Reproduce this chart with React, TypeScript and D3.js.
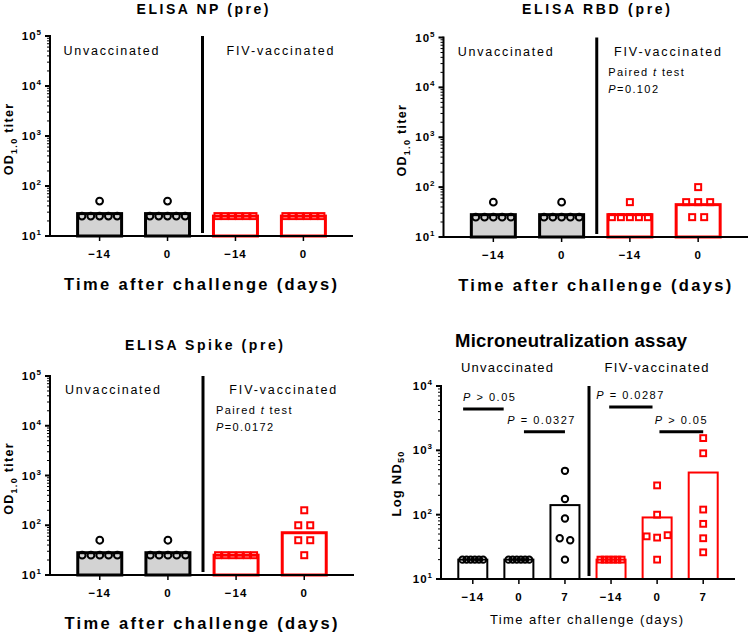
import React from 'react';
import * as d3 from 'd3';

// ---------------- data ----------------
const elisaDays = ['−14', '0', '−14', '0'];
const mnDays = ['−14', '0', '7', '−14', '0', '7'];
const groupNames = ['Unvaccinated', 'FIV-vaccinated'];
const elisaGroupOf = [0, 0, 1, 1];
const mnGroupOf = [0, 0, 0, 1, 1, 1];

const npUnvacDm14 = [25, 25, 25, 25, 25, 50];
const npUnvacD0 = [25, 25, 25, 25, 25, 50];
const npFivDm14 = [25, 25, 25, 25, 25, 25];
const npFivD0 = [25, 25, 25, 25, 25, 25];

const rbdUnvacDm14 = [25, 25, 25, 25, 25, 50];
const rbdUnvacD0 = [25, 25, 25, 25, 25, 50];
const rbdFivDm14 = [25, 25, 25, 25, 25, 50];
const rbdFivD0 = [25, 25, 50, 50, 50, 100];

const spikeUnvacDm14 = [25, 25, 25, 25, 25, 50];
const spikeUnvacD0 = [25, 25, 25, 25, 25, 50];
const spikeFivDm14 = [25, 25, 25, 25, 25, 25];
const spikeFivD0 = [25, 50, 50, 100, 100, 200];

const mnUnvacDm14 = [20, 20, 20, 20, 20, 20];
const mnUnvacD0 = [20, 20, 20, 20, 20, 20];
const mnUnvacD7 = [480, 175, 87, 43, 40, 20];
const mnFivDm14 = [20, 20, 20, 20, 20, 20];
const mnFivD0 = [285, 100, 46, 44, 48, 20];
const mnFivD7 = [1550, 900, 120, 72, 43, 26];

const rbdPValue = '0.102';
const spikePValue = '0.0172';

const mnCompFrom = [0, 1, 3, 4];
const mnCompTo = [1, 2, 4, 5];
const mnCompLabel = [' > 0.05', ' = 0.0327', ' = 0.0287', ' > 0.05'];
const mnCompLevel = [4400, 1950, 4700, 1950];

// ---------------- helpers ----------------
const FONT = '"Liberation Sans", Arial, Helvetica, sans-serif';
const BLACK = '#000000';
const RED = '#ff0000';

const geoMean = (v: number[]) => Math.pow(10, d3.mean(v.map((d) => Math.log10(d))) as number);
const ariMean = (v: number[]) => d3.mean(v) as number;

function spread(values: number[], y: (v: number) => number, cx: number, maxS: number, avail: number) {
  const pts = values.map((v, i) => ({ v, i, py: y(v) }));
  const sorted = [...pts].sort((a, b) => a.py - b.py);
  const clusters: { v: number; i: number; py: number }[][] = [];
  for (const p of sorted) {
    const last = clusters[clusters.length - 1];
    if (last && Math.abs(p.py - last[0].py) < 8) last.push(p);
    else clusters.push([p]);
  }
  const out: { x: number; y: number }[] = [];
  for (const c0 of clusters) {
    const c = [...c0].sort((a, b) => a.i - b.i);
    const n = c.length;
    const s = n > 1 ? Math.min(maxS, avail / (n - 1)) : 0;
    c.forEach((p, j) => out.push({ x: cx + (j - (n - 1) / 2) * s, y: p.py }));
  }
  return out;
}

type PanelProps = {
  left: number;
  right: number;
  yTop: number;
  yBot: number;
  maxExp: number;
  pad: number;
  days: string[];
  groupOf: number[];
  series: number[][];
  mean: (v: number[]) => number;
  barW: number;
  barStroke: number;
  fillUnvac: string;
  markerR: number;
  sq: number;
  maxSpread: number;
  axisW: number;
  dividerW: number;
};

function LogPanel(p: PanelProps) {
  const y = d3.scaleLog().domain([10, Math.pow(10, p.maxExp)]).range([p.yBot, p.yTop]);
  const idx = p.days.map((_, i) => i);
  const x = d3.scalePoint<number>().domain(idx).range([p.left, p.right]).padding(p.pad);
  const majors = d3.range(1, p.maxExp + 1);
  const minors: number[] = [];
  for (let k = 1; k < p.maxExp; k++) for (let m = 2; m <= 9; m++) minors.push(m * Math.pow(10, k));
  const half = p.groupOf.indexOf(1);
  const divX = ((x(half - 1) as number) + (x(half) as number)) / 2 + 1;

  return (
    <g>
      {p.series.map((vals, i) => {
        const col = p.groupOf[i] === 0 ? BLACK : RED;
        const cx = x(i) as number;
        const top = y(p.mean(vals));
        return (
          <rect
            key={'b' + i}
            x={cx - p.barW / 2}
            y={top}
            width={p.barW}
            height={p.yBot - top}
            fill={p.groupOf[i] === 0 ? p.fillUnvac : '#ffffff'}
            stroke={col}
            strokeWidth={p.barStroke}
          />
        );
      })}
      {p.series.map((vals, i) => {
        const cx = x(i) as number;
        const isRed = p.groupOf[i] === 1;
        const msize = isRed ? p.sq + 2 : p.markerR * 2 + 2;
        const pts = spread(vals, (v) => y(v), cx, p.maxSpread, p.barW - msize);
        return pts.map((pt, j) =>
          isRed ? (
            <rect
              key={'p' + i + '-' + j}
              x={pt.x - p.sq / 2}
              y={pt.y - p.sq / 2}
              width={p.sq}
              height={p.sq}
              fill="none"
              stroke={RED}
              strokeWidth={2}
            />
          ) : (
            <circle key={'p' + i + '-' + j} cx={pt.x} cy={pt.y} r={p.markerR} fill="none" stroke={BLACK} strokeWidth={2} />
          )
        );
      })}
      <line x1={divX} x2={divX} y1={p.yTop} y2={p.yBot - 3} stroke={BLACK} strokeWidth={p.dividerW} />
      <line x1={p.left} x2={p.left} y1={p.yTop - 1} y2={p.yBot} stroke={BLACK} strokeWidth={p.axisW} />
      {minors.map((v) => (
        <line key={'mi' + v} x1={p.left - 3} x2={p.left} y1={y(v)} y2={y(v)} stroke={BLACK} strokeWidth={1} />
      ))}
      {majors.map((k) => (
        <g key={'ma' + k}>
          <line x1={p.left - 5} x2={p.left} y1={y(Math.pow(10, k))} y2={y(Math.pow(10, k))} stroke={BLACK} strokeWidth={2} />
          <text
            x={p.left - 8}
            y={y(Math.pow(10, k)) + 4}
            textAnchor="end"
            fontFamily={FONT}
            fontWeight="bold"
            fontSize={11.5}
            letterSpacing={1}
          >
            10
            <tspan dy={-5} fontSize={8}>
              {k}
            </tspan>
          </text>
        </g>
      ))}
      <line x1={p.left - 1} x2={p.right} y1={p.yBot} y2={p.yBot} stroke={BLACK} strokeWidth={p.axisW} />
      {idx.map((i) => (
        <g key={'xt' + i}>
          <line x1={x(i) as number} x2={x(i) as number} y1={p.yBot} y2={p.yBot + 5} stroke={BLACK} strokeWidth={1.5} />
          <text
            x={x(i) as number}
            y={p.yBot + 22}
            textAnchor="middle"
            fontFamily={FONT}
            fontWeight="bold"
            fontSize={11.5}
            letterSpacing={1}
          >
            {p.days[i]}
          </text>
        </g>
      ))}
    </g>
  );
}

function ElisaPanel(props: {
  left: number;
  right: number;
  yTop: number;
  yBot: number;
  title: string;
  titleLen: number;
  titleY: number;
  titleX: number;
  series: number[][];
  unvacX: number;
  fivX: number;
  groupY: number;
  yLabelOff: number;
  pValue?: string;
  pX?: number;
}) {
  const { left, right, yTop, yBot } = props;
  const cx = (left + right) / 2 - 1;
  const midY = (yTop + yBot) / 2 + 3;
  return (
    <g>
      <text
        x={props.titleX}
        y={props.titleY}
        textAnchor="middle"
        fontFamily={FONT}
        fontWeight="bold"
        fontSize={14}
        textLength={props.titleLen}
        lengthAdjust="spacing"
      >
        {props.title}
      </text>
      <LogPanel
        left={left}
        right={right}
        yTop={yTop}
        yBot={yBot}
        maxExp={5}
        pad={0.73}
        days={elisaDays}
        groupOf={elisaGroupOf}
        series={props.series}
        mean={geoMean}
        barW={44}
        barStroke={3}
        fillUnvac="#d3d3d3"
        markerR={3.4}
        sq={6}
        maxSpread={12}
        axisW={2}
        dividerW={3}
      />
      <text x={props.unvacX} y={props.groupY} fontFamily={FONT} fontSize={12.5} textLength={95} lengthAdjust="spacing">
        {groupNames[0]}
      </text>
      <text x={props.fivX} y={props.groupY} fontFamily={FONT} fontSize={12.5} textLength={107} lengthAdjust="spacing">
        {groupNames[1]}
      </text>
      {props.pValue && (
        <g fontFamily={FONT} fontSize={11}>
          <text x={props.pX} y={props.groupY + 20} letterSpacing={1.4}>
            Paired <tspan fontStyle="italic">t</tspan> test
          </text>
          <text x={props.pX} y={props.groupY + 37} letterSpacing={1.4}>
            <tspan fontStyle="italic">P</tspan>={props.pValue}
          </text>
        </g>
      )}
      <text
        transform={`translate(${left - props.yLabelOff},${midY}) rotate(-90)`}
        textAnchor="middle"
        fontFamily={FONT}
        fontWeight="bold"
        fontSize={12.5}
        letterSpacing={1.3}
      >
        OD
        <tspan dy={4} fontSize={9}>
          1.0
        </tspan>
        <tspan dy={-4}> titer</tspan>
      </text>
      <text
        x={cx}
        y={yBot + 54}
        textAnchor="middle"
        fontFamily={FONT}
        fontWeight="bold"
        fontSize={16.5}
        textLength={273}
        lengthAdjust="spacing"
      >
        Time after challenge (days)
      </text>
    </g>
  );
}

function MNPanel() {
  const left = 441;
  const right = 735;
  const yTop = 386;
  const yBot = 579;
  const series = [mnUnvacDm14, mnUnvacD0, mnUnvacD7, mnFivDm14, mnFivD0, mnFivD7];
  const y = d3.scaleLog().domain([10, 1e4]).range([yBot, yTop]);
  const x = d3.scalePoint<number>().domain(d3.range(6)).range([left, right]).padding(0.69);
  const step = x.step();
  const startOff = [-0.21, 0.11, -0.04, 0.05];
  const endOff = [-0.33, 0, -0.1, 0];
  const textOff = [-0.21, -0.25, -0.32, -0.05];
  return (
    <g>
      <text
        x={571}
        y={346.5}
        textAnchor="middle"
        fontFamily={FONT}
        fontWeight="bold"
        fontSize={18.5}
        textLength={232}
        lengthAdjust="spacing"
      >
        Microneutralization assay
      </text>
      <text x={461} y={371.5} fontFamily={FONT} fontSize={13} textLength={92} lengthAdjust="spacing">
        {groupNames[0]}
      </text>
      <text x={604.5} y={371.5} fontFamily={FONT} fontSize={13} textLength={104} lengthAdjust="spacing">
        {groupNames[1]}
      </text>
      <LogPanel
        left={left}
        right={right}
        yTop={yTop}
        yBot={yBot}
        maxExp={4}
        pad={0.69}
        days={mnDays}
        groupOf={mnGroupOf}
        series={series}
        mean={ariMean}
        barW={29}
        barStroke={2}
        fillUnvac="#ffffff"
        markerR={3.2}
        sq={5.8}
        maxSpread={10.5}
        axisW={2}
        dividerW={3}
      />
      {mnCompFrom.map((f, i) => {
        const x1 = (x(f) as number) + startOff[i] * step;
        const x2 = (x(mnCompTo[i]) as number) + endOff[i] * step;
        const ly = y(mnCompLevel[i]);
        return (
          <g key={'c' + i}>
            <line x1={x1} x2={x2} y1={ly} y2={ly} stroke={BLACK} strokeWidth={3} />
            <text x={(x(f) as number) + textOff[i] * step} y={ly - 8} fontFamily={FONT} fontSize={11} letterSpacing={1.5}>
              <tspan fontStyle="italic">P</tspan>
              {mnCompLabel[i]}
            </text>
          </g>
        );
      })}
      <text
        transform={`translate(${left - 40},${(yTop + yBot) / 2 + 1}) rotate(-90)`}
        textAnchor="middle"
        fontFamily={FONT}
        fontWeight="bold"
        fontSize={13}
        letterSpacing={1.2}
      >
        Log ND
        <tspan dy={3} fontSize={9}>
          50
        </tspan>
      </text>
      <text
        x={586.5}
        y={624}
        textAnchor="middle"
        fontFamily={FONT}
        fontSize={13}
        textLength={193}
        lengthAdjust="spacing"
      >
        Time after challenge (days)
      </text>
    </g>
  );
}

export default function App() {
  return (
    <svg
      width={750}
      height={634}
      viewBox="0 0 750 634"
      style={{ position: 'absolute', left: 0, top: 0, background: '#ffffff' }}
    >
      <rect x={0} y={0} width={750} height={634} fill="#ffffff" />
      <ElisaPanel
        left={50}
        right={353}
        yTop={36}
        yBot={236}
        title="ELISA NP (pre)"
        titleLen={132}
        titleY={13.5}
        titleX={202.5}
        series={[npUnvacDm14, npUnvacD0, npFivDm14, npFivD0]}
        unvacX={63.5}
        fivX={226.5}
        groupY={55}
        yLabelOff={37}
      />
      <ElisaPanel
        left={443.5}
        right={748}
        yTop={37.5}
        yBot={237}
        title="ELISA RBD (pre)"
        titleLen={148}
        titleY={13.5}
        titleX={596}
        series={[rbdUnvacDm14, rbdUnvacD0, rbdFivDm14, rbdFivD0]}
        unvacX={457.7}
        fivX={614}
        groupY={56}
        yLabelOff={38}
        pValue={rbdPValue}
        pX={608.3}
      />
      <ElisaPanel
        left={50}
        right={354}
        yTop={376}
        yBot={575}
        title="ELISA Spike (pre)"
        titleLen={158}
        titleY={350}
        titleX={204}
        series={[spikeUnvacDm14, spikeUnvacD0, spikeFivDm14, spikeFivD0]}
        unvacX={65}
        fivX={229.3}
        groupY={393.5}
        yLabelOff={37}
        pValue={spikePValue}
        pX={216}
      />
      <MNPanel />
    </svg>
  );
}
